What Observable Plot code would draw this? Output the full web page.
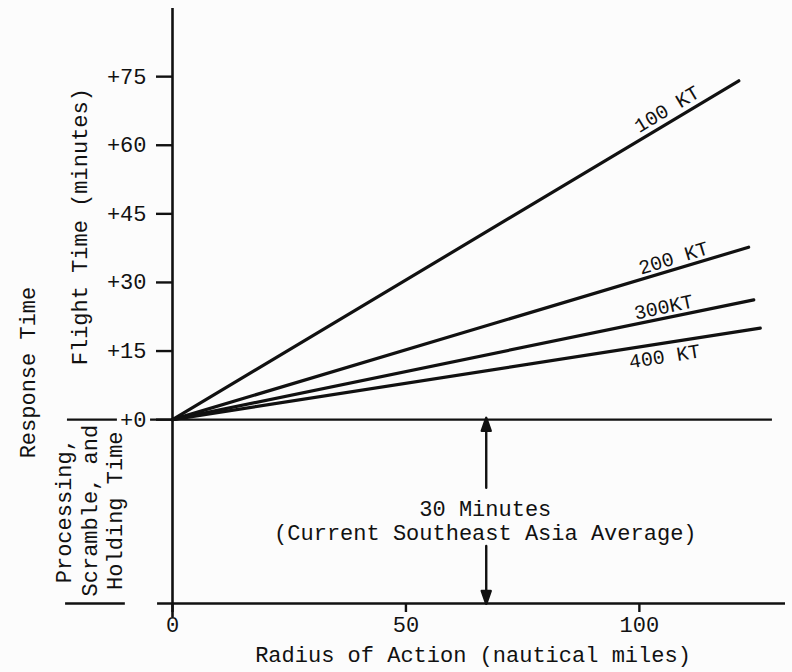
<!DOCTYPE html>
<html><head><meta charset="utf-8">
<script src="https://cdn.jsdelivr.net/npm/d3@7"></script>
<script src="https://cdn.jsdelivr.net/npm/@observablehq/plot@0.6"></script>
<style>
html,body{margin:0;padding:0;background:#fcfcfc;}
#chart svg{display:block;}
</style></head><body><div id="chart"></div>
<script>
// Cruise speeds and where each flight-time line ends (radius nm, minutes)
const speeds = ["100 KT", "200 KT", "300KT", "400 KT"];
const endRadius = [121.3, 123.4, 124.5, 125.9];
const endMinutes = [74.1, 37.7, 26.2, 20.0];
// label placement along each line
const labelRadius = [105.9, 107.3, 105.2, 105.4];
const labelMinutes = [67.9, 35.3, 24.6, 13.8];
const labelAngle = [-31, -17, -12, -9];
// axis ticks
const yTicks = [0, 15, 30, 45, 60, 75];
const xTicks = [0, 50, 100];
const processingMinutes = 30;

const segments = speeds.flatMap((s, i) => [
  {speed: s, r: 0, m: 0},
  {speed: s, r: endRadius[i], m: endMinutes[i]}
]);
const lineLabels = speeds.map((s, i) => ({speed: s, r: labelRadius[i], m: labelMinutes[i], a: labelAngle[i]}));

const font = "Liberation Mono, DejaVu Sans Mono, monospace";
const ink = "#111";

const headShape = {
  draw(ctx, l, r) {
    const h = 13;
    ctx.moveTo(0, 0);
    ctx.lineTo(0, -l + h);
    ctx.moveTo(0, -l);
    ctx.lineTo(r, -l + h);
    ctx.lineTo(-r, -l + h);
    ctx.closePath();
  }
};

const chart = Plot.plot({
  width: 792,
  height: 672,
  marginLeft: 172,
  marginRight: 7,
  marginTop: 8,
  marginBottom: 69,
  style: {fontFamily: font, background: "#fcfcfc", color: ink},
  x: {domain: [0, 131.3]},
  y: {domain: [-40.2, 89.9]},
  marks: [
    // vertical axis line
    Plot.ruleX([0], {y1: -43.3, y2: 89.9, stroke: ink, strokeWidth: 2.6}),
    // bottom (radius) axis line
    Plot.ruleY([-40.2], {x1: -3.2, x2: 131.3, stroke: ink, strokeWidth: 2.6}),
    // zero line
    Plot.ruleY([0], {x1: -4.7, x2: 128.5, stroke: ink, strokeWidth: 2.4}),
    // bracket lines for processing region
    Plot.ruleY([0], {x1: -22.5, x2: -11.8, stroke: ink, strokeWidth: 2.2}),
    Plot.ruleY([-40.2], {x1: -22.9, x2: -10.1, stroke: ink, strokeWidth: 2.6}),
    Plot.axisY(yTicks, {
      tickSize: 16, tickPadding: 10, tickFormat: d => "+" + d,
      fontSize: 22, strokeWidth: 2.4, stroke: ink, fill: ink, label: null
    }),
    Plot.axisX(xTicks, {
      tickSize: 9, tickPadding: 4, tickFormat: d => String(d),
      fontSize: 22, strokeWidth: 2.4, stroke: ink, fill: ink, label: null
    }),
    // flight time lines
    Plot.line(segments, {x: "r", y: "m", z: "speed", stroke: ink, strokeWidth: 3.2}),
    Plot.text(lineLabels, {x: "r", y: "m", text: "speed", rotate: "a", fontSize: 20, fill: ink}),
    // 30 minute arrows
    Plot.vector([processingMinutes], {x: 67.2, y: -14.9, length: 70, rotate: 0, anchor: "start",
      shape: headShape, r: 4.5, stroke: ink, fill: ink, strokeWidth: 2.4}),
    Plot.vector([processingMinutes], {x: 67.2, y: -27.6, length: 58, rotate: 180, anchor: "start",
      shape: headShape, r: 4.5, stroke: ink, fill: ink, strokeWidth: 2.4}),
    Plot.text([`${processingMinutes} Minutes\n(Current Southeast Asia Average)`], {
      x: 67, y: -22.1, fontSize: 22, lineHeight: 1.09, fill: ink
    }),
    // axis titles
    Plot.text(["Radius of Action (nautical miles)"], {
      frameAnchor: "bottom", dy: 58, dx: -6, fontSize: 22, fill: ink
    }),
    Plot.text(["Flight Time (minutes)"], {
      y: 42.2, frameAnchor: "left", textAnchor: "middle", dx: -93, rotate: -90, fontSize: 22, fill: ink
    }),
    Plot.text(["Response Time"], {
      y: 10.3, frameAnchor: "left", textAnchor: "middle", dx: -145, rotate: -90, fontSize: 22, fill: ink
    }),
    Plot.text(["Processing,\nScramble, and\nHolding Time"], {
      y: -19.9, frameAnchor: "left", textAnchor: "middle", dx: -84, rotate: -90, fontSize: 22, lineHeight: 1.14, fill: ink
    })
  ]
});
document.getElementById("chart").appendChild(chart);
</script>
</body></html>
